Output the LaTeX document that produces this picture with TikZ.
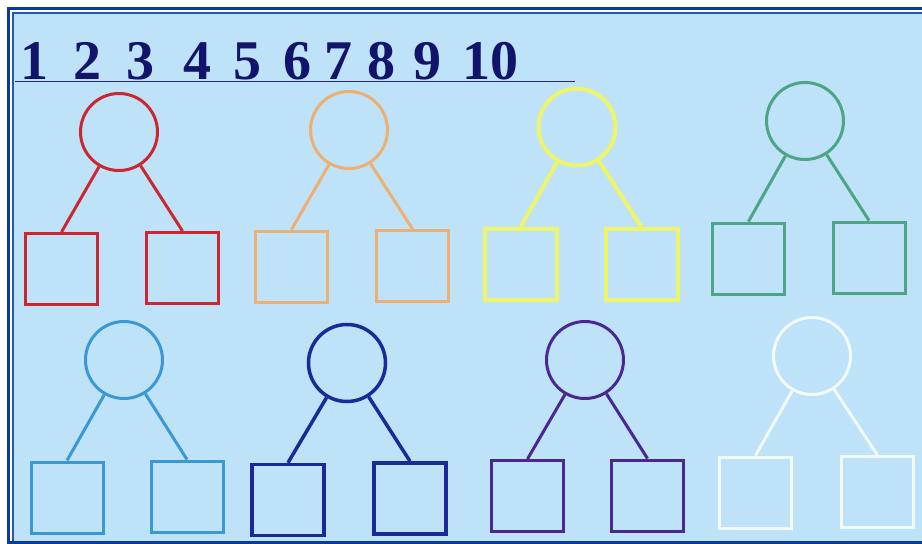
\documentclass[tikz,border=0pt]{standalone}
\usepackage{fontspec}
\setmainfont{Liberation Serif}
\definecolor{bgblue}{HTML}{BEE2F8}
\definecolor{framedark}{HTML}{0A3A9C}
\definecolor{frameinner}{HTML}{2456B4}
\definecolor{navy}{HTML}{12146C}
\definecolor{cred}{HTML}{CC2630}
\definecolor{corange}{HTML}{EDB072}
\definecolor{cyellow}{HTML}{EEF46A}
\definecolor{cgreen}{HTML}{4CA586}
\definecolor{clblue}{HTML}{3A98D2}
\definecolor{cdblue}{HTML}{1A2A98}
\definecolor{cpurple}{HTML}{4A2890}
\definecolor{cwhite}{HTML}{F2FAFC}
\begin{document}
\begin{tikzpicture}[x=1pt,y=-1pt,
  numtxt/.style={font=\bfseries\fontsize{56}{56}\selectfont, text=navy, anchor=base, inner sep=0pt},
  circ/.style={draw, circle, minimum size=77pt, inner sep=0pt, line width=3pt},
  sq/.style={draw, rectangle, minimum width=72pt, minimum height=71pt, inner sep=0pt, line width=3pt},
  lnk/.style={line width=3pt}]
\useasboundingbox (0,0) rectangle (922,544);
% frame
\fill[white] (0,0) rectangle (922,544);
\fill[framedark] (7,7) rectangle (922,544);
\fill[white] (10,10) rectangle (922,541);
\fill[frameinner] (11.5,11.5) rectangle (922,541);
\fill[bgblue] (14,14) rectangle (922,541);
% number line
\node[numtxt] (n1) at (34,79) {1};
\node[numtxt] (n2) at (87,79) {2};
\node[numtxt] (n3) at (140,79) {3};
\node[numtxt] (n4) at (197,79) {4};
\node[numtxt] (n5) at (247,79) {5};
\node[numtxt] (n6) at (297,79) {6};
\node[numtxt] (n7) at (338,79) {7};
\node[numtxt] (n8) at (381,79) {8};
\node[numtxt] (n9) at (427,79) {9};
\node[numtxt] (n10) at (490,79) {10};
\coordinate (ls) at (15,81.5);
\coordinate (le) at (575,81.5);
\draw[line width=1.5pt, navy!80!gray] (ls) -- (le);
% red
\begin{scope}[cred]
\node[circ] (rc) at (119,132) {};
\node[sq] (rl) at (61.5,269) {};
\node[sq] (rr) at (182.5,268) {};
\draw[lnk] (rc) -- (rl.north);
\draw[lnk] (rc) -- (rr.north);
\end{scope}
% orange
\begin{scope}[corange]
\node[circ] (oc) at (349,130) {};
\node[sq] (ol) at (291.5,266.5) {};
\node[sq] (or) at (412.5,266) {};
\draw[lnk] (oc) -- (ol.north);
\draw[lnk] (oc) -- (or.north);
\end{scope}
% yellow
\begin{scope}[cyellow]
\node[circ, line width=4pt] (yc) at (577,127) {};
\node[sq, line width=4pt] (yl) at (520.5,264.5) {};
\node[sq, line width=4pt] (yr) at (641.5,264.5) {};
\draw[lnk, line width=4pt] (yc) -- (yl.north);
\draw[lnk, line width=4pt] (yc) -- (yr.north);
\end{scope}
% green
\begin{scope}[cgreen]
\node[circ] (gc) at (805,121) {};
\node[sq] (gl) at (748.5,258.5) {};
\node[sq] (gr) at (869,257.5) {};
\draw[lnk] (gc) -- (gl.north);
\draw[lnk] (gc) -- (gr.north);
\end{scope}
% light blue
\begin{scope}[clblue]
\node[circ] (bc) at (124,360) {};
\node[sq] (bl) at (67,497.5) {};
\node[sq] (br) at (187,496.5) {};
\draw[lnk] (bc) -- (bl.north);
\draw[lnk] (bc) -- (br.north);
\end{scope}
% dark blue
\begin{scope}[cdblue]
\node[circ, line width=3.5pt] (dc) at (347,363) {};
\node[sq, line width=3.5pt] (dl) at (288,500) {};
\node[sq, line width=3.5pt] (dr) at (410,498.5) {};
\draw[lnk, line width=3.5pt] (dc) -- (dl.north);
\draw[lnk, line width=3.5pt] (dc) -- (dr.north);
\end{scope}
% purple
\begin{scope}[cpurple]
\node[circ] (pc) at (585,360) {};
\node[sq] (pl) at (527.5,496) {};
\node[sq] (pr) at (647.5,495.5) {};
\draw[lnk] (pc) -- (pl.north);
\draw[lnk] (pc) -- (pr.north);
\end{scope}
% white
\begin{scope}[cwhite]
\node[circ] (wc) at (812,356) {};
\node[sq] (wl) at (755.5,492.5) {};
\node[sq] (wr) at (877.5,492) {};
\draw[lnk] (wc) -- (wl.north);
\draw[lnk] (wc) -- (wr.north);
\end{scope}
\end{tikzpicture}
\end{document}
